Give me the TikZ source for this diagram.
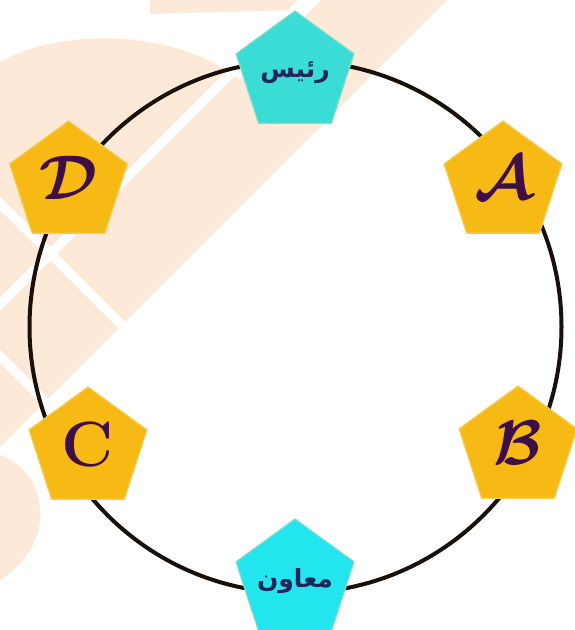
\documentclass[tikz,border=0pt]{standalone}
\usepackage{fontspec}
\usepackage{bm}
\usepackage{graphicx}
\newfontfamily\arabicfont[Script=Arabic]{DejaVu Sans}
\TeXXeTstate=1
\usetikzlibrary{shapes.geometric}

\definecolor{peach}{RGB}{252,233,215}
\definecolor{gold}{RGB}{247,185,20}
\definecolor{goldedge}{RGB}{243,206,90}
\definecolor{aquatop}{RGB}{58,221,214}
\definecolor{aquabot}{RGB}{34,229,238}
\definecolor{aquaedge}{RGB}{130,220,200}
\definecolor{plum}{RGB}{62,14,70}
\definecolor{navy}{RGB}{30,38,92}
\definecolor{ringink}{RGB}{24,16,10}

% a calligraphic capital, enlarged and lifted to the middle of its post
\newcommand{\calcap}[1]{\raisebox{10pt}{\scalebox{6.3}{$\bm{\mathcal{#1}}$}}}
% a Persian title, kept from widening its post
\newcommand{\posttitle}[2]{\makebox[0pt]{\raisebox{#1}{\beginR #2\endR}}}

\begin{document}
\begin{tikzpicture}[x=1pt,y=1pt,
  pent/.style={regular polygon, regular polygon sides=5, minimum size=124pt,
    inner sep=0pt, line width=1.2pt},
  member/.style={pent, fill=gold, draw=goldedge, text=plum},
  officer/.style={pent, draw=aquaedge, text=navy,
    font=\arabicfont\bfseries\fontsize{25}{25}\selectfont},
  ring/.style={line width=4pt, draw=ringink}]
\useasboundingbox (0,0) rectangle (574,630);
\fill[white] (0,0) rectangle (574,630);

% faint logo pattern in the background (drawn in a y-down frame)
\begin{scope}[shift={(0,630)}, yscale=-1]
  \fill[peach] (0,62) .. controls (60,28) and (175,28) .. (240,80)
    -- (322,0) -- (447,0) -- (0,447) -- cycle;
  \fill[peach] (150,0) -- (300,0) -- (290,10) -- (150,14) -- cycle;
  \fill[peach] (0,455) .. controls (45,470) and (62,540) .. (0,580) -- cycle;
  % white gaps between the tiles
  \fill[white] (298,0) -- (311,0) -- (0,311) -- (0,298) -- cycle;
  \fill[white] (0,197) -- (126,323) -- (126,336) -- (0,210) -- cycle;
  \fill[white] (0,350) -- (48,398) -- (48,411) -- (0,363) -- cycle;
\end{scope}

% the ring joining the six posts
\coordinate (hub) at (295.5,303);
\draw[ring] (hub) circle[radius=266];

% posts
\node[officer, fill=aquatop] (head) at (295,557) {\posttitle{-6pt}{رئیس}};
\node[officer, fill=aquabot] (deputy) at (295,49) {\posttitle{-4pt}{معاون}};
\node[member] (A) at (503,447) {\calcap{A}};
\node[member] (B) at (518,182) {\calcap{B}};
\node[member] (C) at (88,181) {\raisebox{10pt}{\bfseries\fontsize{64}{64}\selectfont C}};
\node[member] (D) at (68.5,447) {\calcap{D}};
\end{tikzpicture}
\end{document}
